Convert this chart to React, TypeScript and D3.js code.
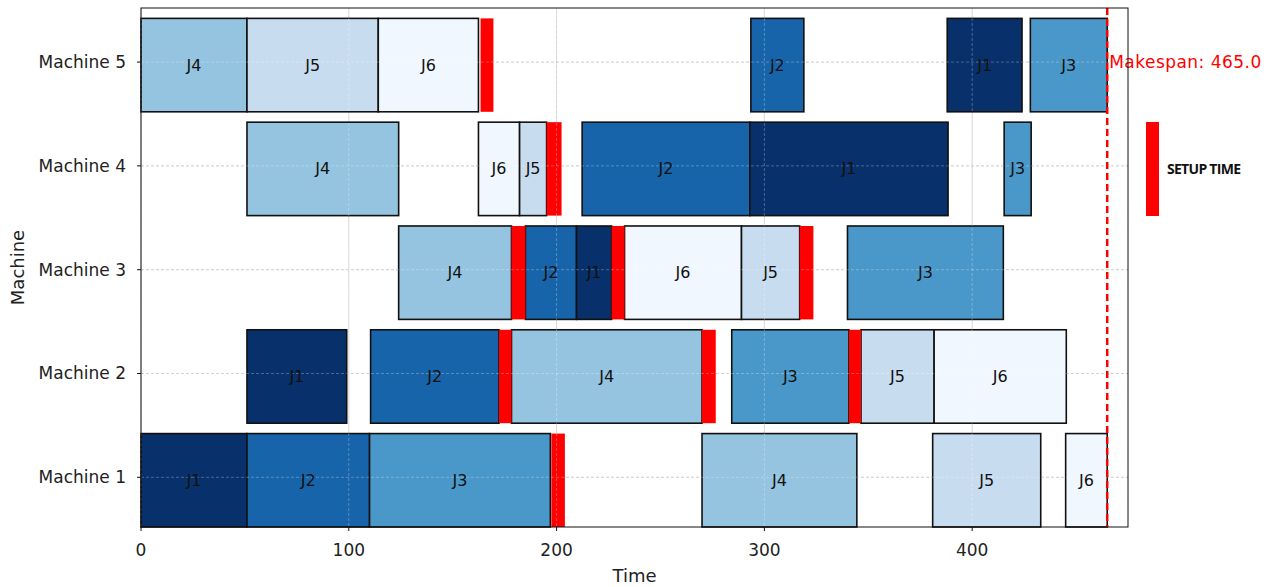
import React from "react";
import * as d3 from "d3";

const machines = ["Machine 1", "Machine 2", "Machine 3", "Machine 4", "Machine 5"];
const jobNames = ["J1", "J2", "J3", "J4", "J5", "J6"];
const jobColors = ["#08306b", "#1764ab", "#4a98c9", "#94c4df", "#c8dcf0", "#f0f7fe"];

// [machineIndex, job, start, end]
const tasks: [number, string, number, number][] = [
  [0, "J1", 0, 51], [0, "J2", 51, 110], [0, "J3", 110, 197], [0, "J4", 270, 344.5], [0, "J5", 381, 433], [0, "J6", 445, 465],
  [1, "J1", 51, 99], [1, "J2", 110.5, 172.3], [1, "J4", 178.3, 270], [1, "J3", 284.3, 340.7], [1, "J5", 346.5, 381.7], [1, "J6", 381.7, 445.3],
  [2, "J4", 124, 178.3], [2, "J2", 185, 209.6], [2, "J1", 209.6, 226.5], [2, "J6", 232.7, 289], [2, "J5", 289, 317], [2, "J3", 340, 415],
  [3, "J4", 51, 124], [3, "J6", 162.4, 182.2], [3, "J5", 182.2, 195.2], [3, "J2", 212.3, 293], [3, "J1", 293, 388.4], [3, "J3", 415.4, 428.4],
  [4, "J4", 0, 51], [4, "J5", 51, 114.2], [4, "J6", 114.2, 162.4], [4, "J2", 293.5, 319], [4, "J1", 388, 424], [4, "J3", 428, 465],
];

// [machineIndex, start, end]
const setups: [number, number, number][] = [
  [0, 197.5, 204],
  [1, 172.3, 178.3], [1, 269.9, 276.6], [1, 340.7, 346.5],
  [2, 178.3, 185], [2, 226.5, 232.7], [2, 317, 323.6],
  [3, 195.2, 202.4],
  [4, 163.4, 169.6],
];

const makespan = 465.0;
const xTicks = [0, 100, 200, 300, 400];

export default function App() {
  const W = 1278, H = 587;
  const left = 141, right = 1128, top = 8, bottom = 527;
  const x = d3.scaleLinear().domain([0, 475]).range([left, right]);
  const y = d3.scaleLinear().domain([-0.45, 4.55]).range([bottom, top]);
  const bh = (y(0) - y(0.9));
  const color = d3.scaleOrdinal<string, string>().domain(jobNames).range(jobColors);
  const font = "'DejaVu Sans', sans-serif";

  return (
    <svg width={W} height={H} style={{ position: "absolute", left: 0, top: 0 }} fontFamily={font}>
      <rect x={0} y={0} width={W} height={H} fill="white" />
      {/* vertical grid below */}
      {xTicks.map((t) => (
        <line key={"gx" + t} x1={x(t)} x2={x(t)} y1={top} y2={bottom} stroke="#c8c8c8" strokeWidth={0.8} />
      ))}
      {machines.map((m, i) => (
        <line key={"gy" + i} x1={left} x2={right} y1={y(i) - 3} y2={y(i) - 3} stroke="#b0b0b0" strokeWidth={0.8} strokeDasharray="3,2" />
      ))}
      {tasks.map(([m, j, s, e], i) => (
        <rect key={"t" + i} x={x(s)} y={y(m) - bh / 2} width={x(e) - x(s)} height={bh}
          fill={color(j)} stroke="#111" strokeWidth={1.6} />
      ))}
      {setups.map(([m, s, e], i) => (
        <rect key={"s" + i} x={x(s)} y={y(m) - bh / 2} width={x(e) - x(s)} height={bh} fill="#ff0000" />
      ))}
      {/* grid over bars */}
      {xTicks.map((t) => (
        <line key={"gx2" + t} x1={x(t)} x2={x(t)} y1={top} y2={bottom} stroke="#ffffff" strokeOpacity={0.35} strokeWidth={0.8} strokeDasharray="3,2" />
      ))}
      {machines.map((m, i) => (
        <line key={"gy2" + i} x1={left} x2={right} y1={y(i) - 3} y2={y(i) - 3} stroke="#ffffff" strokeOpacity={0.35} strokeWidth={0.8} strokeDasharray="3,2" />
      ))}
      {tasks.map(([m, j, s, e], i) => (
        <text key={"l" + i} x={(x(s) + x(e)) / 2} y={y(m)} dy="0.35em" textAnchor="middle" fontSize={16} fill="#111">{j}</text>
      ))}
      {/* makespan */}
      <line x1={x(makespan)} x2={x(makespan)} y1={top} y2={bottom} stroke="#ff0000" strokeWidth={2.5} strokeDasharray="7,4" />
      <text x={x(makespan) + 2} y={y(4) - 3} dy="0.35em" fontSize={17} fill="#ff0000" textLength={152}>Makespan: {makespan.toFixed(1)}</text>
      {/* frame */}
      <rect x={left} y={top} width={right - left} height={bottom - top} fill="none" stroke="#111" strokeWidth={1} />
      {/* y axis */}
      {machines.map((m, i) => (
        <g key={"ya" + i}>
          <line x1={left - 4} x2={left} y1={y(i) - 3} y2={y(i) - 3} stroke="#111" />
          <text x={left - 15} y={y(i) - 3} dy="0.35em" textAnchor="end" fontSize={17} fill="#222">{m}</text>
        </g>
      ))}
      {xTicks.map((t) => (
        <g key={"xa" + t}>
          <line x1={x(t)} x2={x(t)} y1={bottom} y2={bottom + 4} stroke="#111" />
          <text x={x(t)} y={bottom + 29} textAnchor="middle" fontSize={17} fill="#222">{t}</text>
        </g>
      ))}
      <text x={(left + right) / 2} y={582} textAnchor="middle" fontSize={18} fill="#222">Time</text>
      <text transform={`translate(24, ${(top + bottom) / 2}) rotate(-90)`} textAnchor="middle" fontSize={18} fill="#222">Machine</text>
      {/* legend */}
      <rect x={1146} y={122} width={13} height={94} fill="#ff0000" />
      <text x={1167} y={169} dy="0.35em" fontSize={14} fontWeight="bold" fill="#111" fontFamily="'Open Sans', sans-serif" textLength={74}>SETUP TIME</text>
    </svg>
  );
}
